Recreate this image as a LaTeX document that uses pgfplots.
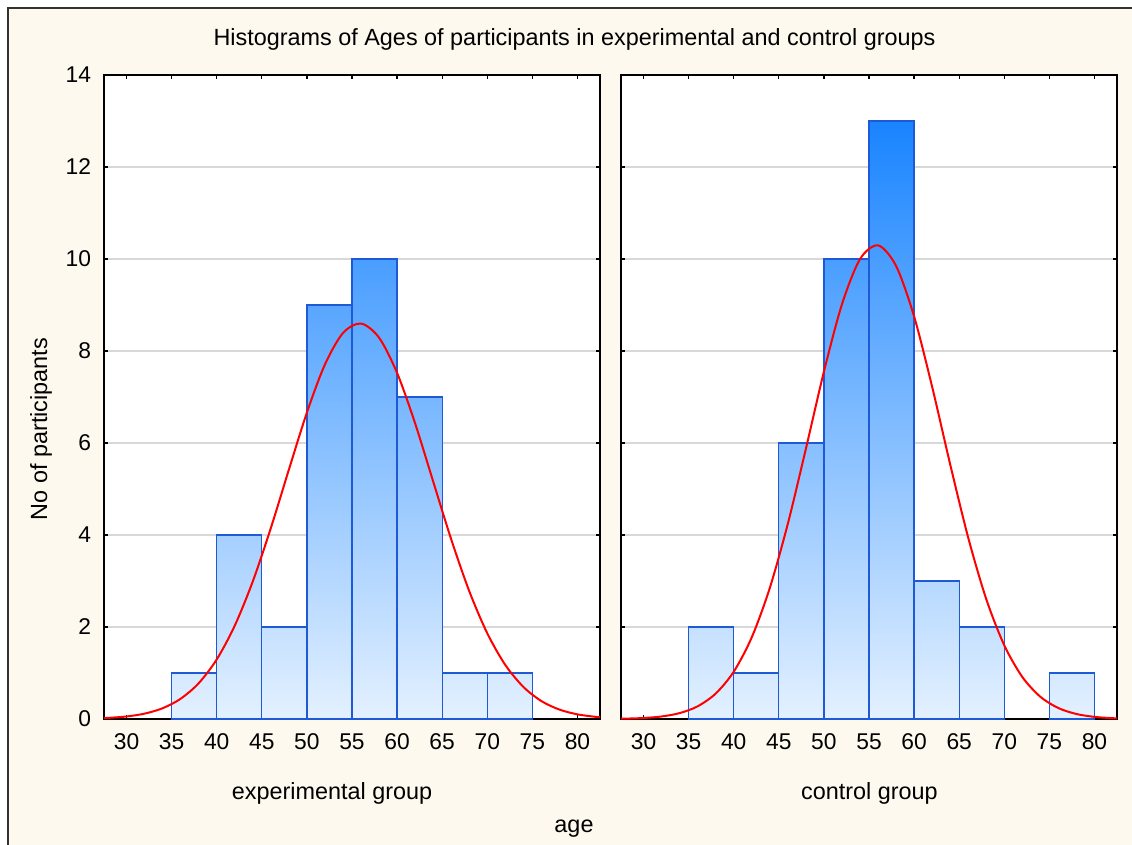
\documentclass[border=0pt]{standalone}
\usepackage{fontspec}
\setmainfont{Liberation Sans}
\usepackage{pgfplots}
\pgfplotsset{compat=1.18}

\definecolor{panelbg}{RGB}{253,249,239}
\definecolor{barlight}{RGB}{228,241,255}
\definecolor{barblue}{RGB}{10,124,255}
\definecolor{baredge}{RGB}{30,90,215}
\definecolor{gridgray}{RGB}{216,216,216}
\definecolor{framegray}{RGB}{50,50,50}

\newcommand{\labelfont}{\fontsize{11.7bp}{14bp}\selectfont}

\pgfplotsset{
  histpanel/.style={
    scale only axis, width=248bp, height=322bp,
    xmin=27.5, xmax=82.5, ymin=0, ymax=14,
    xtick={30,35,...,80}, ytick={0,2,...,14},
    tick align=inside, major tick length=2bp,
    ymajorgrids, grid style={gridgray, line width=0.7bp},
    axis line style={black, line width=1bp},
    tick style={black, line width=0.6bp},
    axis background/.style={fill=white},
    /pgf/number format/assume math mode=true,
    ticklabel style={font=\fontsize{11.4bp}{13.6bp}\selectfont},
    xticklabel style={yshift=-4bp},
    yticklabel style={xshift=-3bp},
  },
  histbar/.style={ybar interval, draw=baredge, line width=0.65bp, bottom color=barlight},
  normalfit/.style={red, line width=1bp, smooth, no marks},
}

\begin{document}
\begin{tikzpicture}
  % page area, cream panel and its frame
  \useasboundingbox (0,0) rectangle (566bp,-422.5bp);
  \fill[white] (0,0) rectangle (566bp,-422.5bp);
  \fill[panelbg] (4bp,-3.8bp) rectangle (566bp,-422.5bp);
  \draw[framegray, line width=0.9bp] (4bp,-422.5bp) -- (4bp,-3.8bp) -- (566bp,-3.8bp);

  % experimental group
  \begin{axis}[histpanel, at={(52bp,-359.5bp)}, anchor=south west]
    \addplot[histbar, top color=barblue!7!barlight]  coordinates {(35,1) (40,1)};
    \addplot[histbar, top color=barblue!29!barlight] coordinates {(40,4) (45,4)};
    \addplot[histbar, top color=barblue!14!barlight] coordinates {(45,2) (50,2)};
    \addplot[histbar, top color=barblue!64!barlight] coordinates {(50,9) (55,9)};
    \addplot[histbar, top color=barblue!71!barlight] coordinates {(55,10) (60,10)};
    \addplot[histbar, top color=barblue!50!barlight] coordinates {(60,7) (65,7)};
    \addplot[histbar, top color=barblue!7!barlight]  coordinates {(65,1) (70,1)};
    \addplot[histbar, top color=barblue!7!barlight]  coordinates {(70,1) (75,1)};
    % fitted normal curve
    \addplot[normalfit] coordinates {
      (27.5,0.020) (28,0.025) (30,0.055) (32,0.117) (34,0.234) (36,0.440)
      (38,0.778) (40,1.295) (42,2.030) (44,2.992) (46,4.151) (48,5.421)
      (50,6.663) (52,7.708) (54,8.391) (56,8.597) (58,8.290) (60,7.523)
      (62,6.426) (64,5.164) (66,3.907) (68,2.781) (70,1.863) (72,1.175)
      (74,0.698) (76,0.390) (78,0.205) (80,0.101) (82,0.047) (82.5,0.039)
    };
  \end{axis}

  % control group
  \begin{axis}[histpanel, at={(310.5bp,-359.5bp)}, anchor=south west, yticklabels={}]
    \addplot[histbar, top color=barblue!14!barlight] coordinates {(35,2) (40,2)};
    \addplot[histbar, top color=barblue!7!barlight]  coordinates {(40,1) (45,1)};
    \addplot[histbar, top color=barblue!43!barlight] coordinates {(45,6) (50,6)};
    \addplot[histbar, top color=barblue!71!barlight] coordinates {(50,10) (55,10)};
    \addplot[histbar, top color=barblue!93!barlight] coordinates {(55,13) (60,13)};
    \addplot[histbar, top color=barblue!21!barlight] coordinates {(60,3) (65,3)};
    \addplot[histbar, top color=barblue!14!barlight] coordinates {(65,2) (70,2)};
    \addplot[histbar, top color=barblue!7!barlight]  coordinates {(75,1) (80,1)};
    % fitted normal curve
    \addplot[normalfit] coordinates {
      (27.5,0.006) (28,0.008) (30,0.022) (32,0.055) (34,0.128) (36,0.276)
      (38,0.553) (40,1.028) (42,1.776) (44,2.849) (46,4.245) (48,5.874)
      (50,7.551) (52,9.015) (54,9.996) (56,10.296) (58,9.850) (60,8.752)
      (62,7.223) (64,5.537) (66,3.943) (68,2.607) (70,1.602) (72,0.914)
      (74,0.484) (76,0.238) (78,0.109) (80,0.046) (82,0.018) (82.5,0.014)
    };
  \end{axis}

  % titles and axis names
  \node[anchor=base, inner sep=0] at (287.25bp,-22.5bp)
    {\labelfont Histograms of Ages of participants in experimental and control groups};
  \node[anchor=center, inner sep=0, rotate=90] at (20.5bp,-214.5bp)
    {\labelfont No of participants};
  \node[anchor=base, inner sep=0] at (166bp,-399.5bp) {\labelfont experimental group};
  \node[anchor=base, inner sep=0] at (434.75bp,-399.5bp) {\labelfont control group};
  \node[anchor=base, inner sep=0] at (287bp,-416.3bp) {\labelfont age};
\end{tikzpicture}
\end{document}
